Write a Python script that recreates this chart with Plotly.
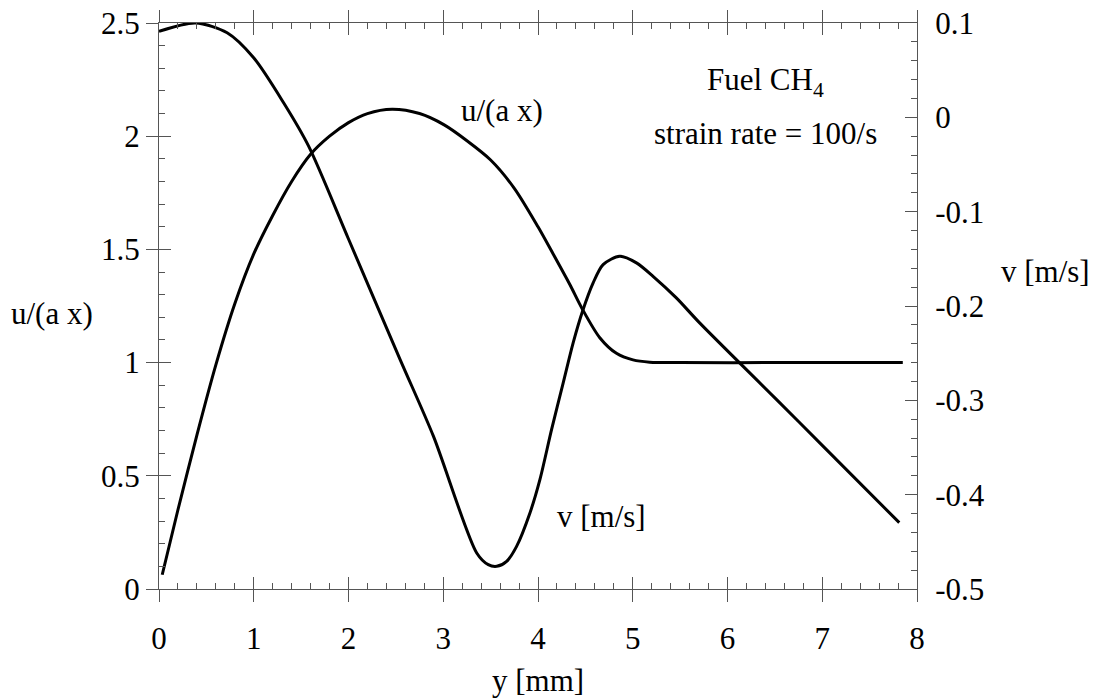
import plotly.graph_objects as go

# distance y [mm]
y_u = [0.034, 0.2, 0.4, 0.6, 0.8, 1.0, 1.2, 1.4, 1.6, 1.8, 2.0, 2.2, 2.46, 2.75, 3.01, 3.25, 3.50, 3.75, 4.0, 4.16, 4.336, 4.47, 4.652, 4.828, 5.003, 5.179, 5.5, 6.5, 7.85]
# normalized velocity u/(a x)
u_vals = [0.063, 0.35, 0.68, 0.99, 1.26, 1.48, 1.65, 1.80, 1.92, 2.00, 2.06, 2.10, 2.119, 2.10, 2.05, 1.98, 1.895, 1.77, 1.60, 1.48, 1.345, 1.235, 1.11, 1.041, 1.012, 1.002, 1.0, 1.0, 1.0]

y_v = [0.0, 0.385, 0.719, 0.999, 1.315, 1.579, 2.0, 2.545, 2.896, 3.353, 3.475, 3.564, 3.669, 3.774, 3.915, 4.020, 4.143, 4.266, 4.371, 4.470, 4.582, 4.687, 4.863, 5.039, 5.214, 5.460, 5.706, 6.5, 7.0, 7.813]
# axial velocity v [m/s]
v_vals = [0.0911, 0.1, 0.0896, 0.0631, 0.0154, -0.0306, -0.129, -0.2568, -0.338, -0.4618, -0.4742, -0.476, -0.4707, -0.4548, -0.4194, -0.3841, -0.3311, -0.2815, -0.2391, -0.2056, -0.1755, -0.1561, -0.1473, -0.1543, -0.1685, -0.1914, -0.2179, -0.2974, -0.3477, -0.4297]

x_ticks = [0, 1, 2, 3, 4, 5, 6, 7, 8]
u_ticks = [0, 0.5, 1, 1.5, 2, 2.5]
u_ticktext = ["0", "0.5", "1", "1.5", "2", "2.5"]
v_ticks = [-0.5, -0.4, -0.3, -0.2, -0.1, 0, 0.1]
v_ticktext = ["-0.5", "-0.4", "-0.3", "-0.2", "-0.1", "0", "0.1"]

FONT = "Liberation Serif, Times New Roman, serif"
FS = 31
AX = "#555555"

fig = go.Figure()
fig.add_trace(go.Scatter(x=y_u, y=u_vals, mode="lines", line=dict(color="black", width=3, shape="spline", smoothing=0.8),
                         xaxis="x", yaxis="y", showlegend=False, hoverinfo="skip"))
fig.add_trace(go.Scatter(x=y_v, y=v_vals, mode="lines", line=dict(color="black", width=3, shape="spline", smoothing=0.8),
                         xaxis="x2", yaxis="y2", showlegend=False, hoverinfo="skip"))

common = dict(showgrid=False, zeroline=False, tickcolor=AX, tickwidth=1, automargin=False)
fig.update_layout(
    width=1101, height=699,
    margin=dict(l=159, r=184, t=23, b=110),
    paper_bgcolor="white", plot_bgcolor="white",
    font=dict(family=FONT, size=FS, color="black"),
    xaxis=dict(range=[0, 8], tickvals=x_ticks, ticks="outside", ticklen=12, mirror="ticks", ticklabelstandoff=10,
               showline=True, linecolor=AX, linewidth=1, anchor="y", **common),
    xaxis2=dict(range=[0, 8], overlaying="x", anchor="y", side="bottom", tickvals=x_ticks, ticks="inside", ticklen=12,
                mirror="ticks", showticklabels=False, showline=False,
                minor=dict(ticks="inside", ticklen=6, dtick=0.2, tick0=0, tickcolor=AX), **common),
    yaxis=dict(range=[0, 2.5], tickvals=u_ticks, ticktext=u_ticktext, ticks="outside", ticklen=12,
               showline=True, linecolor=AX, linewidth=1, anchor="x", **common),
    yaxis3=dict(range=[0, 2.5], overlaying="y", anchor="x", side="left", tickvals=u_ticks, ticks="inside", ticklen=12,
                showticklabels=False, showline=False,
                minor=dict(ticks="inside", ticklen=6, dtick=0.1, tick0=0, tickcolor=AX), **common),
    yaxis2=dict(range=[-0.5, 0.1], overlaying="y", anchor="x2", side="right", tickvals=v_ticks, ticktext=v_ticktext,
                ticks="inside", ticklen=12, ticklabelstandoff=11,
                showline=True, linecolor=AX, linewidth=1,
                minor=dict(ticks="inside", ticklen=6, dtick=0.02, tick0=0, tickcolor=AX), **common),
)

# make the inner-tick left axis exist
fig.add_trace(go.Scatter(x=[None], y=[None], xaxis="x", yaxis="y3", showlegend=False, hoverinfo="skip"))

ann = [
    dict(text="y [mm]", x=0.5, y=-0.162, xref="paper", yref="paper"),
    dict(text="u/(a x)", x=-0.1418, y=0.4876, xref="paper", yref="paper"),
    dict(text="v [m/s]", x=1.170, y=0.5606, xref="paper", yref="paper"),
    dict(text="u/(a x)", x=3.625, y=2.115, xref="x", yref="y"),
    dict(text="v [m/s]", x=4.673, y=0.319, xref="x", yref="y"),
    dict(text="Fuel CH<sub>4</sub>", x=6.40, y=2.239, xref="x", yref="y"),
    dict(text="strain rate = 100/s", x=6.40, y=2.014, xref="x", yref="y"),
]
for a in ann:
    fig.add_annotation(showarrow=False, xanchor="center", yanchor="middle",
                       font=dict(family=FONT, size=FS, color="black"), **a)

fig.write_html("out.html", config={"displayModeBar": False},
               post_script="document.body.style.margin='0';document.body.style.overflow='hidden';")
